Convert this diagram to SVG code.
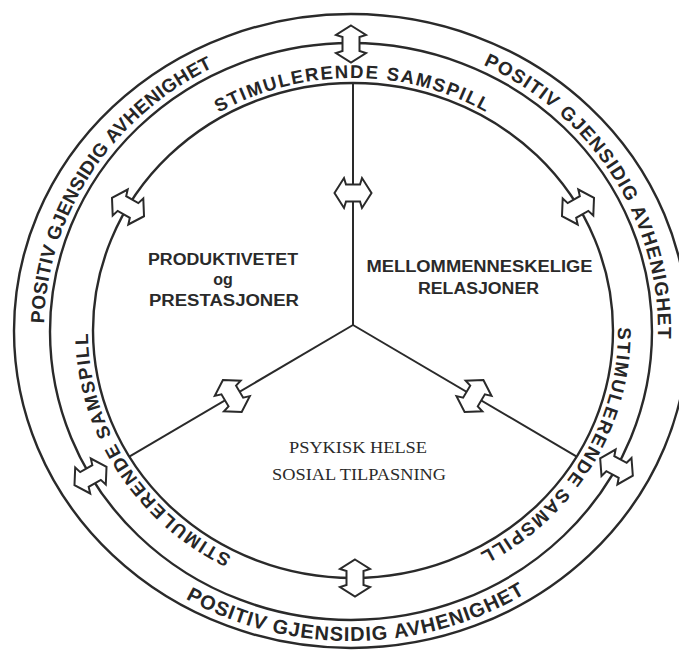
<svg xmlns="http://www.w3.org/2000/svg" width="679" height="651" viewBox="0 0 679 651">
<style>
.c{fill:none;stroke:#2a2a2a;stroke-width:2.4}
.l{fill:none;stroke:#2a2a2a;stroke-width:2}
.a{fill:#fff;stroke:#2a2a2a;stroke-width:2;stroke-linejoin:miter}
.rt{font-family:"Liberation Sans",Arial,sans-serif;font-weight:bold;fill:#262626;text-anchor:middle}
.ct{font-family:"Liberation Sans",Arial,sans-serif;font-weight:bold;font-size:16px;fill:#2a2a2a;text-anchor:middle}
.st{font-family:"Liberation Serif","Times New Roman",serif;font-size:17px;fill:#2a2a2a;text-anchor:middle}
</style>
<defs>
<path id="arr" d="M-18.5 0 L-9 -15 L-7 -8.5 L7 -8.5 L9 -15 L18.5 0 L9 15 L7 8.5 L-7 8.5 L-9 15 Z"/>
<path id="pTL" d="M68.4 446.3 A307 295 0 0 1 334.9 36.4"/>
<path id="pTR" d="M372.4 36.7 A307 295 0 0 1 631.5 451"/>
<path id="pB" d="M85.6 513.2 A328 310 0 0 0 622.9 504.4"/>
<path id="iT" d="M135.9 185.9 A265 253 0 0 1 570.1 185.9"/>
<path id="iR" d="M593.2 224.1 A265 253 0 0 1 376.1 583"/>
<path id="iL" d="M334.5 583.4 A265 253 0 0 1 110.9 228.1"/>
</defs>
<rect width="679" height="651" fill="#fff"/>

<g id="ring-outer">
<ellipse class="c" cx="351" cy="331" rx="337" ry="317"/>
<text class="rt" font-size="19" letter-spacing="0.4"><textPath href="#pTL" startOffset="50%">POSITIV GJENSIDIG AVHENIGHET</textPath></text>
<text class="rt" font-size="19" letter-spacing="1.2"><textPath href="#pTR" startOffset="50%">POSITIV GJENSIDIG AVHENIGHET</textPath></text>
<text class="rt" font-size="20" letter-spacing="1"><textPath href="#pB" startOffset="50%">POSITIV GJENSIDIG AVHENIGHET</textPath></text>
</g>

<g id="ring-inner">
<ellipse class="c" cx="351" cy="331.5" rx="301" ry="288.5"/>
<text class="rt" font-size="18.5" letter-spacing="1.7"><textPath href="#iT" startOffset="50%">STIMULERENDE SAMSPILL</textPath></text>
<text class="rt" font-size="18.5" letter-spacing="1.7"><textPath href="#iR" startOffset="50%">STIMULERENDE SAMSPILL</textPath></text>
<text class="rt" font-size="18.5" letter-spacing="1.7"><textPath href="#iL" startOffset="50%">STIMULERENDE SAMSPILL</textPath></text>
</g>

<g id="core-circle">
<ellipse class="c" cx="353" cy="330.5" rx="260" ry="247.5"/>
</g>

<g id="connectors">
<line class="l" x1="353" y1="83" x2="353" y2="325"/>
<line class="l" x1="353" y1="325" x2="576.7" y2="456.6"/>
<line class="l" x1="353" y1="325" x2="129.3" y2="456.6"/>
<use href="#arr" class="a" transform="translate(353 193)"/>
<use href="#arr" class="a" transform="translate(474 396) rotate(120.5)"/>
<use href="#arr" class="a" transform="translate(232.3 396) rotate(59.5)"/>
<use href="#arr" class="a" transform="translate(351 44) rotate(90)"/>
<use href="#arr" class="a" transform="translate(90.5 476) rotate(150)"/>
<use href="#arr" class="a" transform="translate(616.5 467) rotate(28)"/>
<use href="#arr" class="a" transform="translate(128 207) rotate(210)"/>
<use href="#arr" class="a" transform="translate(578 207) rotate(330)"/>
<use href="#arr" class="a" transform="translate(355 578) rotate(90)"/>
</g>

<g id="node-produktivitet">
<text class="ct" x="223" y="265" textLength="150" lengthAdjust="spacingAndGlyphs">PRODUKTIVETET</text>
<text class="ct" x="223" y="285">og</text>
<text class="ct" x="224" y="306" textLength="150" lengthAdjust="spacingAndGlyphs">PRESTASJONER</text>
</g>

<g id="node-relasjoner">
<text class="ct" x="479.5" y="272" textLength="226" lengthAdjust="spacingAndGlyphs">MELLOMMENNESKELIGE</text>
<text class="ct" x="478.5" y="294" textLength="121" lengthAdjust="spacingAndGlyphs">RELASJONER</text>
</g>

<g id="node-helse">
<text class="st" x="358" y="453" textLength="138" lengthAdjust="spacingAndGlyphs">PSYKISK HELSE</text>
<text class="st" x="359" y="480" textLength="174" lengthAdjust="spacingAndGlyphs">SOSIAL TILPASNING</text>
</g>
</svg>
